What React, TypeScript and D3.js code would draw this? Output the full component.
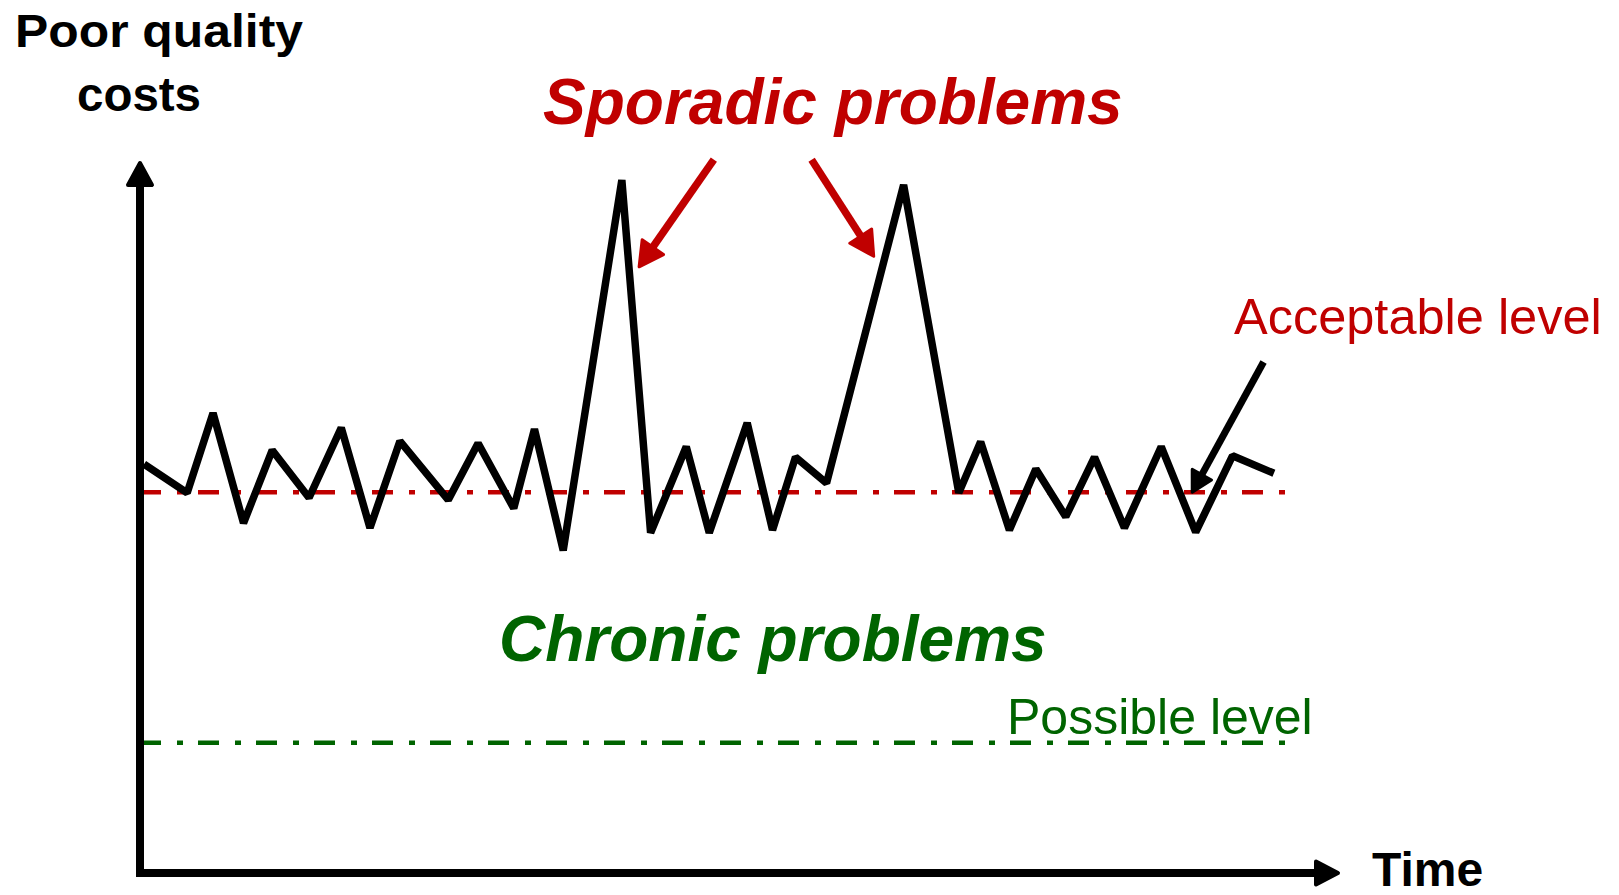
import React from "react";
import * as d3 from "d3";

// ---- data (time index, poor-quality cost) ----
const timeValues = [0.35, 4.1, 6.35, 9.0, 11.5, 14.7, 17.5, 20.0, 22.6, 26.8, 29.4, 32.5, 34.3, 36.8, 41.9, 44.4, 47.5, 49.5, 52.8, 55.0, 57.0, 59.7, 66.4, 71.2, 73.1, 75.6, 77.9, 80.5, 83.0, 85.6, 88.8, 91.8, 95.0, 98.6];
const costValues = [58.4, 54.3, 65.7, 50.0, 60.4, 53.6, 63.6, 49.3, 61.7, 53.3, 61.4, 52.1, 63.4, 46.1, 99.0, 48.6, 60.9, 48.6, 64.3, 49.0, 59.4, 55.7, 98.3, 54.3, 61.6, 49.0, 57.7, 50.9, 59.4, 49.3, 60.9, 48.7, 59.6, 57.1];

const levelNames = ["Acceptable level", "Possible level"];
const levelValues = [54.4, 18.6];
const levelExtent = [0, 99.7];

// annotation arrows: [tailT, tailC, tipT, tipC]
const sporadicArrows = [
  [49.9, 101.9, 43.4, 86.6],
  [58.4, 101.9, 63.8, 88.1],
];
const acceptableArrow = [97.7, 73.0, 91.5, 54.4];

const W = 1619;
const H = 895;
const RED = "#C00000";
const GREEN = "#006400";
const FONT = "'Liberation Sans', Arial, Helvetica, sans-serif";

const x = d3.scaleLinear().domain([0, 100]).range([140, 1290]);
const y = d3.scaleLinear().domain([0, 100]).range([873, 173]);

function arrowHead(tx: number, ty: number, fx: number, fy: number, len: number, half: number) {
  const dx = tx - fx;
  const dy = ty - fy;
  const d = Math.hypot(dx, dy);
  const ux = dx / d;
  const uy = dy / d;
  const bx = tx - ux * len;
  const by = ty - uy * len;
  const p = d3.path();
  p.moveTo(tx, ty);
  p.lineTo(bx - uy * half, by + ux * half);
  p.lineTo(bx + uy * half, by - ux * half);
  p.closePath();
  return { d: p.toString(), bx: bx + ux * 2, by: by + uy * 2 };
}

function Arrow({ a, color, sw, len, half }: { a: number[]; color: string; sw: number; len: number; half: number }) {
  const fx = x(a[0]);
  const fy = y(a[1]);
  const tx = x(a[2]);
  const ty = y(a[3]);
  const h = arrowHead(tx, ty, fx, fy, len, half);
  return (
    <g>
      <line x1={fx} y1={fy} x2={h.bx} y2={h.by} stroke={color} strokeWidth={sw} />
      <path d={h.d} fill={color} stroke={color} strokeWidth={3} strokeLinejoin="round" />
    </g>
  );
}

export default function App() {
  const pts: [number, number][] = timeValues.map((t, i) => [t, costValues[i]]);
  const line = d3
    .line<[number, number]>()
    .x((d) => x(d[0]))
    .y((d) => y(d[1]));

  const yTop = 163;
  const xRight = 1338;
  const yAxisHead = arrowHead(x(0), yTop, x(0), y(0), 22, 12);
  const xAxisHead = arrowHead(xRight, y(0), x(0), y(0), 22, 11.5);

  return (
    <svg width={W} height={H} style={{ position: "absolute", left: 0, top: 0, background: "#fff" }} fontFamily={FONT}>
      <rect width={W} height={H} fill="#fff" />
      {/* reference levels */}
      {levelValues.map((v, i) => (
        <line
          key={levelNames[i]}
          x1={x(levelExtent[0])}
          x2={x(levelExtent[1])}
          y1={y(v)}
          y2={y(v)}
          stroke={i === 0 ? RED : GREEN}
          strokeWidth={4.5}
          strokeDasharray="21 16 6 15"
        />
      ))}

      {/* axes */}
      <line x1={x(0)} y1={y(0) + 4} x2={x(0)} y2={yAxisHead.by} stroke="#000" strokeWidth={8} />
      <path d={yAxisHead.d} fill="#000" stroke="#000" strokeWidth={4} strokeLinejoin="round" />
      <line x1={x(0) - 4} y1={y(0)} x2={xAxisHead.bx} y2={y(0)} stroke="#000" strokeWidth={8} />
      <path d={xAxisHead.d} fill="#000" stroke="#000" strokeWidth={4} strokeLinejoin="round" />

      {/* cost line */}
      <path d={line(pts) || ""} fill="none" stroke="#000" strokeWidth={7.5} strokeLinejoin="bevel" />

      {/* annotation arrows */}
      {sporadicArrows.map((a, i) => (
        <Arrow key={i} a={a} color={RED} sw={7.5} len={24} half={13} />
      ))}
      <Arrow a={acceptableArrow} color="#000" sw={7} len={20} half={11} />

      {/* labels */}
      <text x={15} y={47} fontSize={46} fontWeight="bold" fill="#000" textLength={288} lengthAdjust="spacingAndGlyphs">
        Poor quality
      </text>
      <text x={77} y={111} fontSize={48} fontWeight="bold" fill="#000" textLength={124} lengthAdjust="spacingAndGlyphs">
        costs
      </text>
      <text x={1372} y={886} fontSize={48} fontWeight="bold" fill="#000">
        Time
      </text>
      <text x={543} y={124} fontSize={64} fontWeight="bold" fontStyle="italic" fill={RED}>
        Sporadic problems
      </text>
      <text x={499} y={661} fontSize={64} fontWeight="bold" fontStyle="italic" fill={GREEN}>
        Chronic problems
      </text>
      <text x={1234} y={334} fontSize={50.5} fill={RED}>
        {levelNames[0]}
      </text>
      <text x={1007} y={734} fontSize={50} fill={GREEN}>
        {levelNames[1]}
      </text>
    </svg>
  );
}
